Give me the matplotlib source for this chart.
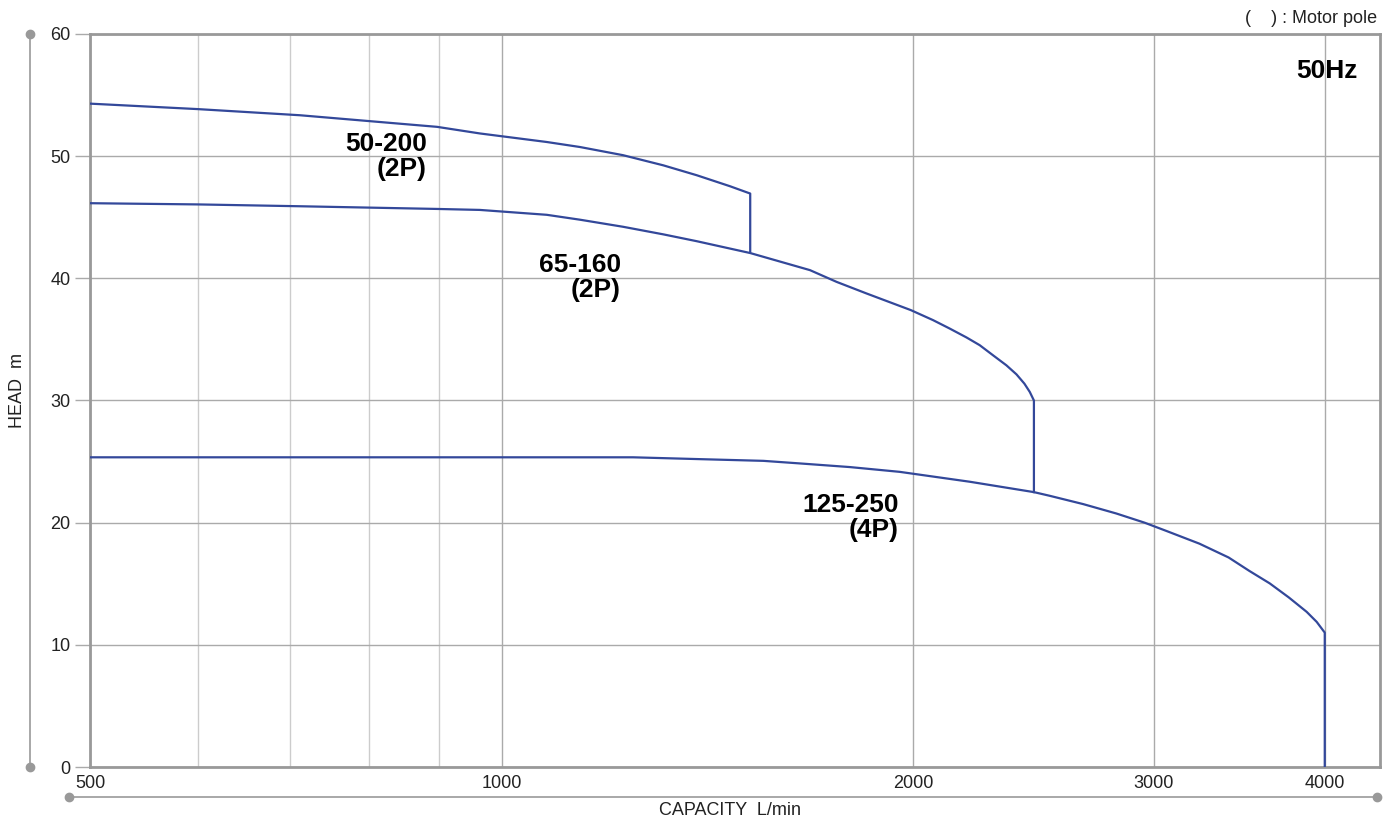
import numpy as np
import matplotlib
matplotlib.use("Agg")
import matplotlib.pyplot as plt
from matplotlib.lines import Line2D
from matplotlib.ticker import NullFormatter

plt.rcParams['font.family'] = ['Liberation Sans', 'DejaVu Sans']

# pump curves: capacity (L/min) and head (m)
q_50_200 = [500, 600, 712, 897, 964, 1079, 1141, 1227, 1313, 1389, 1469,
            1520, 1520]
h_50_200 = [54.3, 53.85, 53.35, 52.4, 51.86, 51.16, 50.75, 50.08, 49.25,
            48.44, 47.54, 46.94, 42.2]

q_65_160 = [500, 600, 712, 897, 964, 1079, 1141, 1227, 1313, 1389, 1520,
            1681, 1758, 1849, 1992, 2068, 2126, 2188, 2237, 2288, 2340,
            2380, 2412, 2434, 2451, 2451]
h_65_160 = [46.15, 46.05, 45.9, 45.68, 45.6, 45.2, 44.8, 44.22, 43.6, 43.04,
            42.07, 40.67, 39.71, 38.76, 37.4, 36.58, 35.9, 35.16, 34.53,
            33.7, 32.88, 32.14, 31.38, 30.7, 30.0, 22.5]

q_125_250 = [500, 1000, 1248, 1396, 1554, 1652, 1798, 1955, 2200, 2451,
             2517, 2663, 2816, 2953, 3064, 3239, 3402, 3523, 3646, 3765,
             3880, 3946, 4000, 4000]
h_125_250 = [25.35, 25.35, 25.35, 25.2, 25.06, 24.85, 24.55, 24.16, 23.35,
             22.5, 22.2, 21.52, 20.75, 20.0, 19.32, 18.28, 17.15, 16.05,
             15.03, 13.88, 12.7, 11.88, 11.0, 0.0]

curves = [
    (q_50_200, h_50_200, "50-200\n(2P)", 882, 52.0),
    (q_65_160, h_65_160, "65-160\n(2P)", 1223, 42.06),
    (q_125_250, h_125_250, "125-250\n(4P)", 1953, 22.42),
]

x_major = [500, 1000, 2000, 3000, 4000]
x_minor = [600, 700, 800, 900]
y_ticks = [0, 10, 20, 30, 40, 50, 60]

line_col = '#33489a'
gray = '#999999'

W, H = 1392, 821
fig = plt.figure(figsize=(W / 100, H / 100), dpi=100)
ax = fig.add_axes([90 / W, 54 / H, 1290 / W, 733 / H])

for q, h, label, lx, ly in curves:
    ax.plot(q, h, color=line_col, lw=1.6, solid_joinstyle='round', zorder=3)
    ax.text(lx, ly, label, ha='right', va='top', fontsize=19,
            fontweight='bold', linespacing=1.05, color='black', zorder=4)

ax.set_xscale('log')
ax.set_xlim(500, 4390)
ax.set_ylim(0, 60)
ax.set_xticks(x_major)
ax.set_xticklabels([str(v) for v in x_major])
ax.set_xticks(x_minor, minor=True)
ax.xaxis.set_minor_formatter(NullFormatter())
ax.set_yticks(y_ticks)

ax.grid(True, which='major', color='#aaaaaa', lw=1.0)
ax.grid(True, which='minor', axis='x', color='#cccccc', lw=1.0)
ax.set_axisbelow(True)

ax.tick_params(axis='x', which='both', length=0, pad=5.5, labelsize=13,
               labelcolor='#222222')
ax.tick_params(axis='y', length=11, width=1, color='#aaaaaa', pad=3,
               labelsize=13, labelcolor='#222222')

for sp in ax.spines.values():
    sp.set_color(gray)
    sp.set_linewidth(2)

ax.text(0.983, (767 - 78.3) / 733, "50Hz", transform=ax.transAxes,
        ha='right', va='baseline', fontsize=19, fontweight='bold')
fig.text(1377 / W, 1 - 23.3 / H, "(    ) : Motor pole", ha='right',
         va='baseline', fontsize=13, color='#222222')

# outer decorative axis lines with end dots
fig.add_artist(Line2D([30 / W, 30 / W], [1 - 34 / H, 1 - 767 / H],
                      color=gray, lw=1.2, marker='o', markersize=6,
                      markevery=[0, 1]))
fig.add_artist(Line2D([69 / W, 1377 / W], [1 - 797 / H, 1 - 797 / H],
                      color=gray, lw=1.2, marker='o', markersize=6,
                      markevery=[0, 1]))

fig.text(17 / W, 1 - 390 / H, "HEAD  m", rotation=90, ha='center',
         va='center', fontsize=13, color='#222222')
fig.text(730 / W, 1 - 814.5 / H, "CAPACITY  L/min", ha='center',
         va='baseline', fontsize=13, color='#222222')

fig.savefig('out.png', dpi=100)
